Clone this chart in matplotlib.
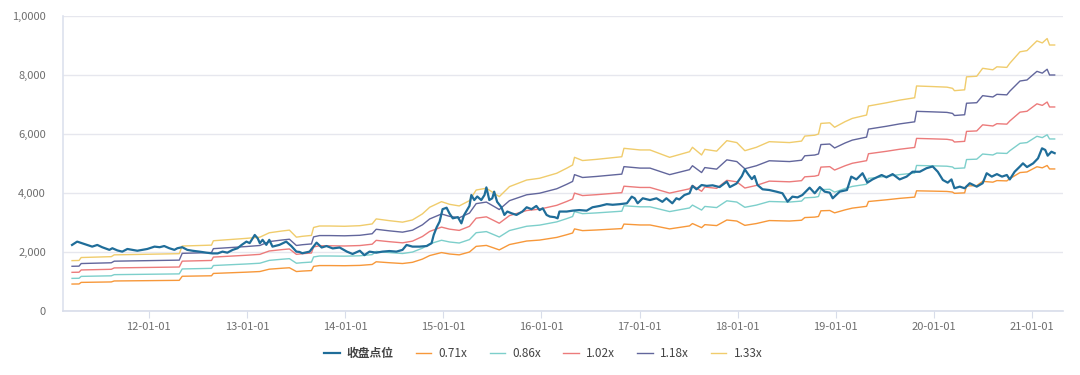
import numpy as np
import pandas as pd
import matplotlib
matplotlib.use('Agg')
import matplotlib.pyplot as plt
import matplotlib.dates as mdates
from matplotlib.ticker import FixedLocator, FixedFormatter

plt.rcParams['font.family'] = ['Noto Sans CJK SC', 'DejaVu Sans']

# 收盘点位
close_dates = ['2011-03-22', '2011-04-10', '2011-05-06', '2011-06-05', '2011-06-24', '2011-07-12',
               '2011-08-08', '2011-08-19', '2011-09-07', '2011-09-25', '2011-10-14', '2011-11-02',
               '2011-11-20', '2011-12-09', '2011-12-27', '2012-01-23', '2012-02-11', '2012-02-28',
               '2012-03-18', '2012-04-06', '2012-04-17', '2012-05-05', '2012-05-24', '2012-06-12',
               '2012-07-08', '2012-08-03', '2012-08-25', '2012-09-14', '2012-10-02', '2012-10-20',
               '2012-11-09', '2012-11-27', '2012-12-12', '2012-12-30', '2013-01-11', '2013-01-30',
               '2013-02-10', '2013-02-18', '2013-02-28', '2013-03-14', '2013-03-25', '2013-04-06',
               '2013-05-02', '2013-05-27', '2013-06-15', '2013-07-04', '2013-07-15', '2013-07-26',
               '2013-08-22', '2013-09-10', '2013-09-17', '2013-10-06', '2013-10-24', '2013-11-16',
               '2013-12-12', '2014-01-08', '2014-01-29', '2014-02-25', '2014-03-14', '2014-04-02',
               '2014-04-27', '2014-05-20', '2014-06-15', '2014-07-11', '2014-08-03', '2014-08-18',
               '2014-09-09', '2014-10-05', '2014-11-01', '2014-11-19', '2014-11-27', '2014-12-08',
               '2014-12-19', '2014-12-30', '2015-01-14', '2015-01-25', '2015-02-06', '2015-02-25',
               '2015-03-10', '2015-03-20', '2015-04-09', '2015-04-16', '2015-04-27', '2015-05-08',
               '2015-05-23', '2015-06-04', '2015-06-11', '2015-06-22', '2015-07-03', '2015-07-10',
               '2015-07-21', '2015-08-06', '2015-08-17', '2015-08-28', '2015-09-13', '2015-10-01',
               '2015-10-23', '2015-11-08', '2015-11-26', '2015-12-14', '2015-12-26', '2016-01-07',
               '2016-01-21', '2016-02-02', '2016-02-20', '2016-03-02', '2016-03-09', '2016-04-05',
               '2016-04-27', '2016-05-22', '2016-06-18', '2016-07-10', '2016-08-06', '2016-09-01',
               '2016-09-23', '2016-10-19', '2016-11-15', '2016-12-03', '2016-12-14', '2016-12-25',
               '2017-01-13', '2017-02-09', '2017-03-05', '2017-03-27', '2017-04-11', '2017-05-03',
               '2017-05-18', '2017-05-29', '2017-06-17', '2017-07-06', '2017-07-17', '2017-08-01',
               '2017-08-20', '2017-09-08', '2017-09-30', '2017-10-26', '2017-11-22', '2017-12-03',
               '2017-12-28', '2018-01-17', '2018-01-28', '2018-02-09', '2018-02-23', '2018-03-05',
               '2018-03-16', '2018-04-04', '2018-04-29', '2018-05-25', '2018-06-17', '2018-07-06',
               '2018-07-24', '2018-08-12', '2018-08-30', '2018-09-26', '2018-10-15', '2018-11-03',
               '2018-11-21', '2018-12-10', '2018-12-21', '2019-01-16', '2019-02-12', '2019-02-28',
               '2019-03-19', '2019-04-11', '2019-04-29', '2019-05-18', '2019-06-21', '2019-07-09',
               '2019-08-01', '2019-08-27', '2019-09-22', '2019-10-14', '2019-11-10', '2019-12-05',
               '2019-12-28', '2020-01-16', '2020-02-04', '2020-02-22', '2020-03-07', '2020-03-18',
               '2020-04-07', '2020-04-25', '2020-05-14', '2020-06-09', '2020-07-01', '2020-07-16',
               '2020-08-04', '2020-08-23', '2020-09-11', '2020-09-29', '2020-10-10', '2020-10-28',
               '2020-11-17', '2020-11-28', '2020-12-13', '2021-01-05', '2021-01-23', '2021-02-07',
               '2021-02-19', '2021-02-28', '2021-03-14', '2021-03-26']
close_vals = [2237, 2350, 2270, 2180, 2237, 2160,
              2070, 2125, 2050, 2010, 2100, 2070,
              2040, 2070, 2100, 2180, 2160, 2200,
              2125, 2070, 2125, 2160, 2070, 2040,
              2010, 1975, 1950, 1950, 2010, 1975,
              2070, 2125, 2237, 2350, 2300, 2575,
              2460, 2295, 2410, 2240, 2410, 2180,
              2240, 2350, 2200, 2010, 2000, 1955,
              2010, 2237, 2315, 2150, 2200, 2120,
              2150, 2010, 1930, 2040, 1890, 2010,
              1975, 2010, 2030, 2010, 2070, 2237,
              2180, 2180, 2200, 2295, 2575, 2835,
              3030, 3450, 3500, 3300, 3140, 3180,
              2970, 3250, 3560, 3930, 3760, 3880,
              3760, 3930, 4190, 3760, 3820, 4045,
              3700, 3515, 3255, 3370, 3310, 3255,
              3370, 3515, 3450, 3560, 3420, 3480,
              3255, 3200, 3180, 3140, 3370, 3370,
              3400, 3420, 3400, 3515, 3560, 3620,
              3600, 3620, 3650, 3875, 3820, 3650,
              3820, 3760, 3820, 3700, 3820, 3650,
              3820, 3780, 3930, 3990, 4240, 4125,
              4270, 4240, 4260, 4200, 4385, 4200,
              4320, 4575, 4800, 4640, 4470, 4575,
              4270, 4125, 4100, 4045, 3990, 3705,
              3875, 3850, 3930, 4180, 3990, 4200,
              4045, 4010, 3820, 4045, 4100, 4555,
              4460, 4670, 4350, 4460, 4610, 4530,
              4640, 4460, 4555, 4720, 4720, 4840,
              4900, 4720, 4440, 4350, 4460, 4160,
              4215, 4160, 4330, 4215, 4330, 4670,
              4555, 4640, 4555, 4610, 4460, 4720,
              4900, 5005, 4880, 5005, 5175, 5515,
              5460, 5265, 5400, 5350]

# 1x 基准 (band = 倍数 * 基准)
base_dates = ['2011-03-22', '2011-04-17', '2011-04-25', '2011-08-15', '2011-08-26', '2011-12-27',
              '2012-04-24', '2012-05-05', '2012-08-22', '2012-08-29', '2012-12-30', '2013-02-18',
              '2013-03-25', '2013-05-12', '2013-06-08', '2013-07-04', '2013-07-26', '2013-08-29',
              '2013-09-06', '2013-09-28', '2013-11-05', '2013-12-30', '2014-02-25', '2014-04-12',
              '2014-04-27', '2014-06-15', '2014-08-03', '2014-09-09', '2014-10-16', '2014-11-12',
              '2014-12-26', '2015-01-25', '2015-03-02', '2015-04-09', '2015-05-04', '2015-06-11',
              '2015-07-10', '2015-07-29', '2015-09-05', '2015-11-08', '2015-12-26', '2016-02-28',
              '2016-04-05', '2016-04-27', '2016-05-04', '2016-06-03', '2016-07-25', '2016-10-27',
              '2016-11-04', '2017-01-03', '2017-02-09', '2017-04-23', '2017-07-06', '2017-07-17',
              '2017-08-20', '2017-09-01', '2017-10-15', '2017-11-22', '2017-12-29', '2018-01-28',
              '2018-03-12', '2018-04-29', '2018-07-13', '2018-08-27', '2018-09-08', '2018-10-15',
              '2018-10-29', '2018-11-07', '2018-12-10', '2018-12-28', '2019-02-05', '2019-03-04',
              '2019-04-26', '2019-05-03', '2019-07-09', '2019-08-27', '2019-10-22', '2019-10-29',
              '2019-12-28', '2020-02-19', '2020-03-11', '2020-03-18', '2020-04-25', '2020-05-02',
              '2020-06-09', '2020-07-01', '2020-08-08', '2020-08-23', '2020-09-29', '2020-10-10',
              '2020-11-17', '2020-12-13', '2021-01-19', '2021-02-08', '2021-02-26', '2021-03-07',
              '2021-03-26']
base_vals = [1282, 1286, 1361, 1383, 1429, 1444,
             1459, 1654, 1677, 1789, 1850, 1880,
             1992, 2038, 2060, 1880, 1902, 1925,
             2128, 2165, 2165, 2158, 2173, 2218,
             2346, 2301, 2263, 2320, 2474, 2643,
             2786, 2718, 2677, 2812, 3083, 3128,
             3000, 2914, 3169, 3338, 3383, 3511,
             3639, 3722, 3917, 3835, 3865, 3932,
             4147, 4105, 4105, 3917, 4060, 4173,
             3977, 4120, 4075, 4342, 4293, 4086,
             4173, 4316, 4293, 4331, 4459, 4481,
             4511, 4782, 4797, 4684, 4827, 4910,
             4996, 5226, 5308, 5376, 5436, 5737,
             5722, 5707, 5677, 5617, 5639, 5970,
             5985, 6188, 6150, 6226, 6211, 6316,
             6609, 6639, 6887, 6835, 6947, 6782,
             6782]

band_labels = ['0.71x', '0.86x', '1.02x', '1.18x', '1.33x']
band_mult = [0.71, 0.86, 1.02, 1.18, 1.33]
band_colors = ['#f7983a', '#7dcfcb', '#ec7b7b', '#62669c', '#f0cc6c']

x_ticks = ['2012-01-01', '2013-01-01', '2014-01-01', '2015-01-01', '2016-01-01',
           '2017-01-01', '2018-01-01', '2019-01-01', '2020-01-01', '2021-01-01']
x_tick_labels = ['12-01-01', '13-01-01', '14-01-01', '15-01-01', '16-01-01',
                 '17-01-01', '18-01-01', '19-01-01', '20-01-01', '21-01-01']
y_ticks = [0, 2000, 4000, 6000, 8000, 10000]
y_tick_labels = ['0', '2,000', '4,000', '6,000', '8,000', '1,0000']

cd = pd.to_datetime(close_dates)
bd = pd.to_datetime(base_dates)
base = np.array(base_vals, dtype=float)

fig = plt.figure(figsize=(10.8, 3.75), dpi=100)
ax = fig.add_axes([0.058, 0.171, 0.926, 0.786])

ax.plot(cd, close_vals, color='#1f6d99', lw=1.6, label='收盘点位', zorder=5)
for lab, m, c in zip(band_labels, band_mult, band_colors):
    ax.plot(bd, base * m, color=c, lw=1.0, label=lab, zorder=3)

ax.set_xlim(pd.Timestamp('2011-02-15'), pd.Timestamp('2021-04-25'))
ax.set_ylim(0, 10000)
ax.yaxis.set_major_locator(FixedLocator(y_ticks))
ax.yaxis.set_major_formatter(FixedFormatter(y_tick_labels))
ax.set_xticks(mdates.date2num(pd.to_datetime(x_ticks)))
ax.set_xticklabels(x_tick_labels)

ax.grid(axis='y', color='#e6e7ee', lw=1)
ax.set_axisbelow(True)
for s in ['top', 'right']:
    ax.spines[s].set_visible(False)
ax.spines['left'].set_color('#dde2ee')
ax.spines['bottom'].set_color('#d8ddea')
ax.spines['left'].set_linewidth(1.2)
ax.spines['bottom'].set_linewidth(1.2)
ax.tick_params(axis='y', length=0, labelsize=8, labelcolor='#6e6e6e', pad=12)
ax.tick_params(axis='x', length=5, color='#d8ddea', labelsize=8, labelcolor='#6e6e6e', pad=3)

leg = fig.legend(loc='center', bbox_to_anchor=(0.503, 0.058), ncol=6, frameon=False,
                 fontsize=8.5, handlelength=1.3, handletextpad=0.6, columnspacing=1.9)
for t in leg.get_texts():
    t.set_color('#444444')
leg.get_texts()[0].set_fontweight('bold')

fig.savefig('out.png', dpi=100)
